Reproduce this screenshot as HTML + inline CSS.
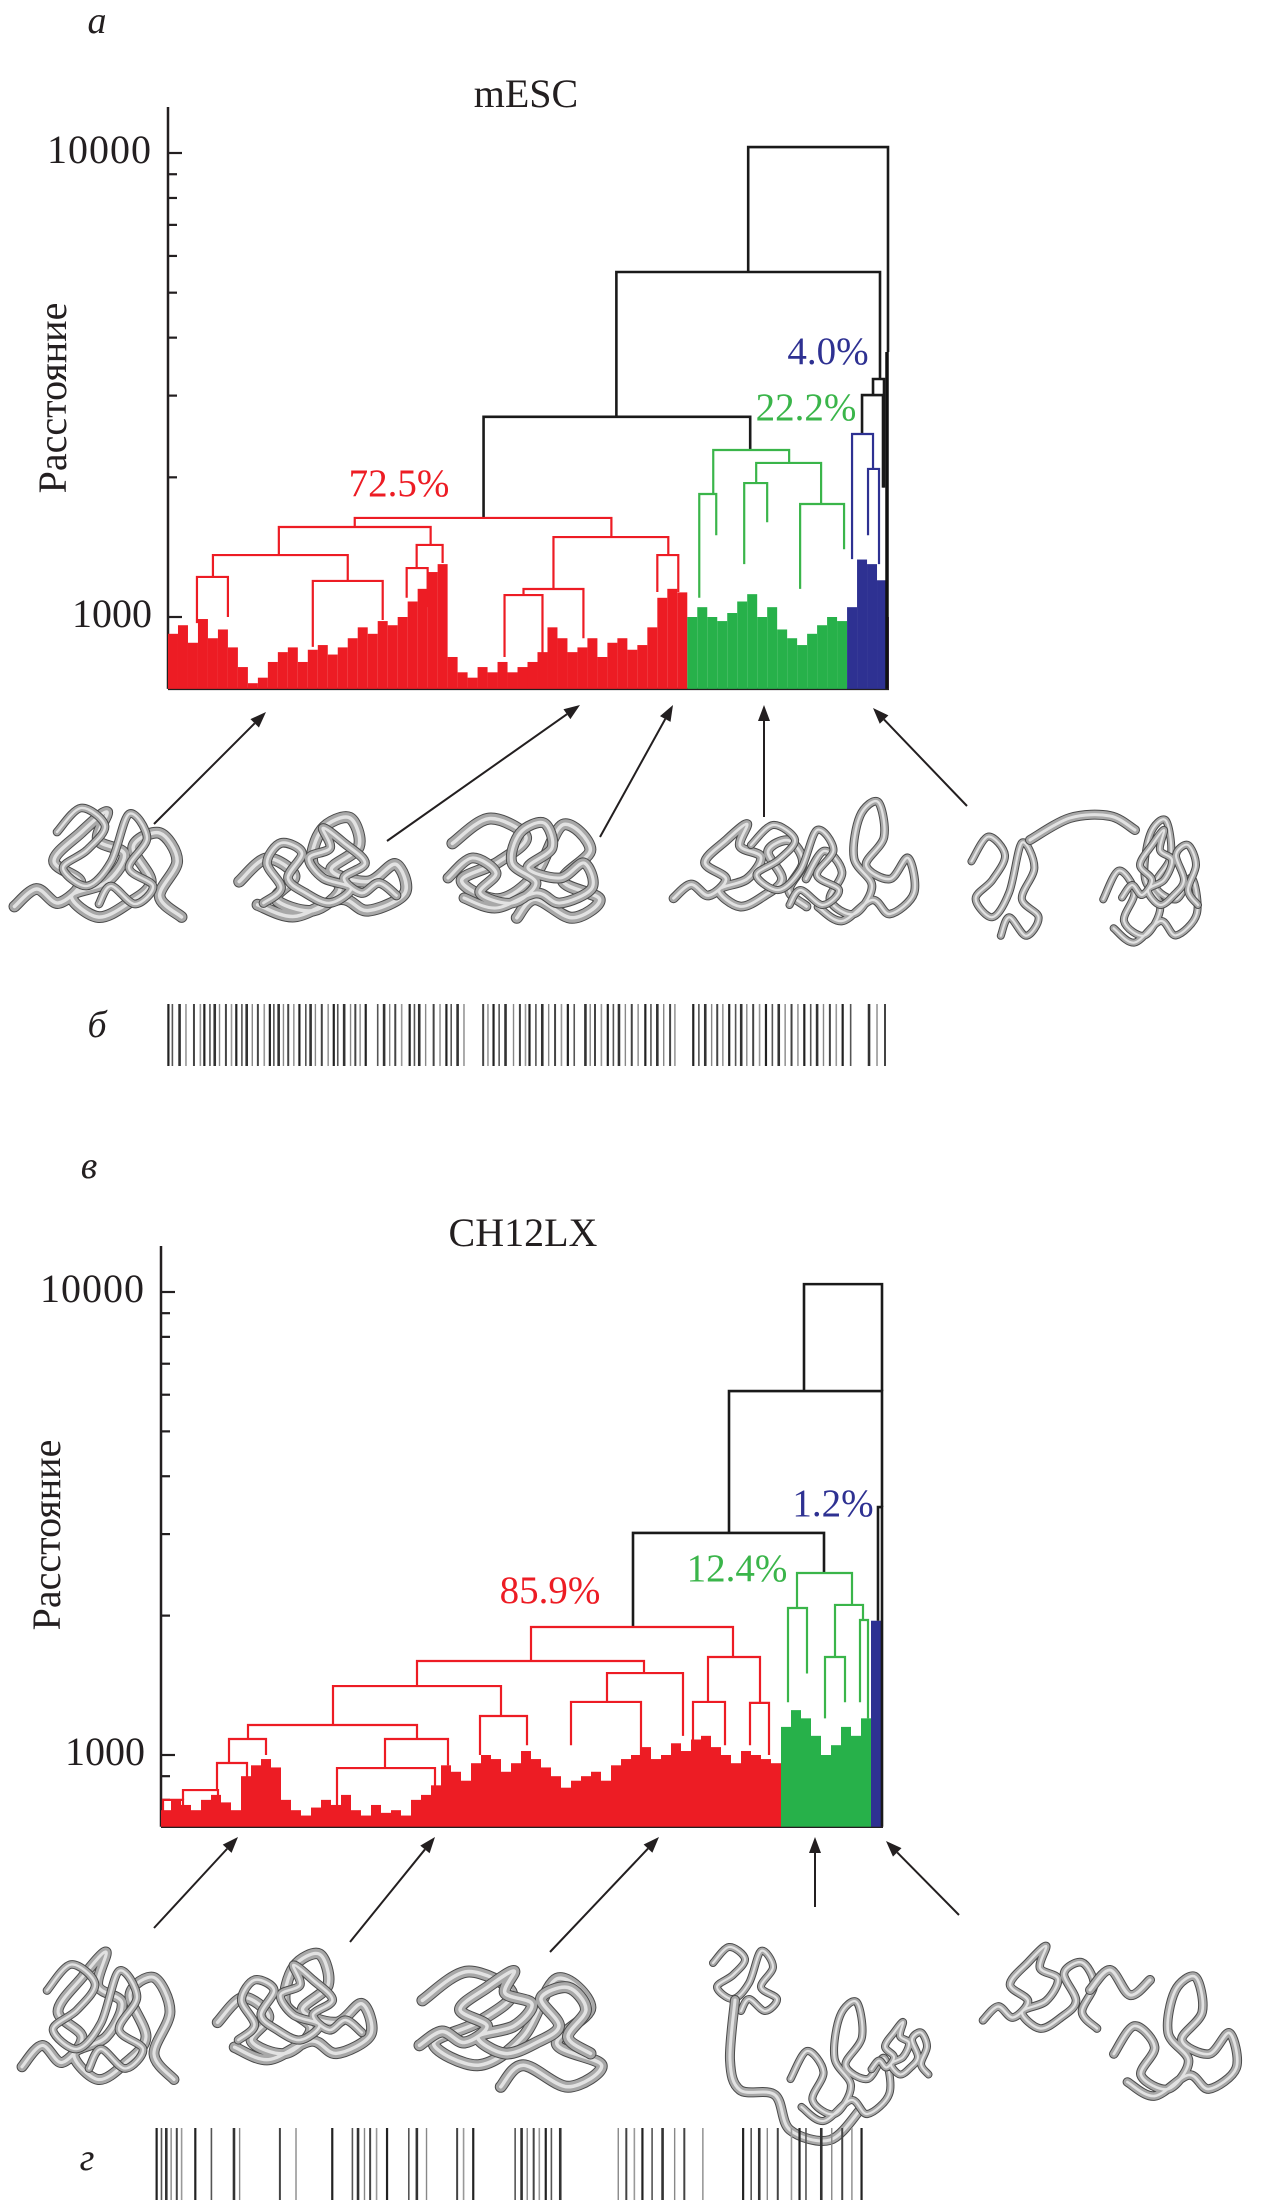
<!DOCTYPE html>
<html><head><meta charset="utf-8"><style>
html,body{margin:0;padding:0;background:#fff;}
svg{display:block;}
text{font-family:"Liberation Serif","DejaVu Serif",serif;}
</style></head><body>
<svg id="fig" xmlns="http://www.w3.org/2000/svg" width="1262" height="2205" viewBox="0 0 1262 2205">
<rect width="1262" height="2205" fill="#fff"/>
<g>
  <text x="97" y="33" font-size="38" font-style="italic" text-anchor="middle" fill="#231f20">а</text>
  <text x="526" y="107" font-size="40" text-anchor="middle" fill="#231f20">mESC</text>
  <text transform="translate(66,398) rotate(-90)" font-size="40" text-anchor="middle" fill="#231f20">Расстояние</text>
  <g id="axisA"></g>
  <g id="dendA"></g>
  <text x="399" y="496" font-size="39" text-anchor="middle" fill="#ed1c24">72.5%</text>
  <text x="806" y="420" font-size="39" text-anchor="middle" fill="#3ab54a">22.2%</text>
  <text x="828" y="364" font-size="39" text-anchor="middle" fill="#2e3192">4.0%</text>
  <g id="structA"></g>
  <g id="arrowsA"></g>
  <text x="97" y="1037" font-size="38" font-style="italic" text-anchor="middle" fill="#231f20">б</text>
  <g id="barB"></g>
</g>
<g>
  <text x="89" y="1178" font-size="38" font-style="italic" text-anchor="middle" fill="#231f20">в</text>
  <text x="523" y="1246" font-size="40" text-anchor="middle" fill="#231f20">CH12LX</text>
  <text transform="translate(60,1535) rotate(-90)" font-size="40" text-anchor="middle" fill="#231f20">Расстояние</text>
  <g id="axisC"></g>
  <g id="dendC"></g>
  <text x="550" y="1603" font-size="39" text-anchor="middle" fill="#ed1c24">85.9%</text>
  <text x="737" y="1581" font-size="39" text-anchor="middle" fill="#3ab54a">12.4%</text>
  <text x="833" y="1516" font-size="39" text-anchor="middle" fill="#2e3192">1.2%</text>
  <g id="structC"></g>
  <g id="arrowsC"></g>
  <text x="87" y="2170" font-size="38" font-style="italic" text-anchor="middle" fill="#231f20">г</text>
  <g id="barD"></g>
</g>
</svg>
<script>
// ---------- DATA: panel a (mESC) ----------
const A_tickValues = [800, 900, 1000, 2000, 3000, 4000, 5000, 6000, 7000, 8000, 9000, 10000];
const A_tickLabels = ["1000", "10000"];
const A_nodeLeft  = [581,449,316,706,695,685,701,187,111,45,249,29,145,239,386,356,490,337,546,589,577,633,532];
const A_nodeRight = [721,713,583,717,716,706,712,444,263,180,275,60,215,260,501,416,511,375,622,654,600,677,549];
const A_nodeHeight= [10300,5540,2700,3258,3008,2480,2085,1635,1563,1360,1430,1220,1196,1275,1487,1149,1360,1115,2290,2148,1944,1752,1841];
const A_legLeft   = [5540,2700,1635,3008,2480,1333,1500,1563,1360,1220,1275,970,862,1100,1149,1115,1132,820,1841,1944,1300,1150,1100];
const A_legRight  = [3725,3258,2290,1900,1900,2085,1300,1487,1430,1196,1307,1000,985,1050,1360,900,1132,770,2148,1752,1600,1400,1500];
const A_nodeCluster=["k","k","k","k","k","b","b","r","r","r","r","r","r","r","r","r","r","r","g","g","g","g","g"];
const A_leafFill = [920,960,880,990,900,940,860,780,720,740,800,840,860,800,850,870,830,860,900,950,920,980,960,1000,1080,1150,1250,1300,820,760,740,780,760,800,760,780,800,840,950,900,840,860,900,820,880,900,850,870,950,1100,1150,1130,1000,1050,1000,980,1020,1080,1120,1000,1050,940,900,870,920,960,1000,980,1050,1330,1300,1200,1000];
const A_clusterEnd = [522, 683, 716, 722];
const A_stemTop = [3725];
const A_barcode = [208,213,222,230,240,248,253,260,266,272,280,287,293,300,306,313,320,328,335,340,346,352,358,365,372,380,386,392,400,408,415,420,428,436,442,448,455,470,478,485,492,500,510,516,522,530,540,548,556,562,570,578,602,608,615,622,630,640,648,655,660,668,676,684,692,700,708,716,730,736,742,750,758,765,772,780,788,796,805,812,820,828,836,842,865,872,880,888,895,902,910,918,925,932,940,948,956,964,972,980,988,996,1004,1012,1020,1028,1036,1044,1052,1062,1085,1095,1105];

// ---------- DATA: panel c (CH12LX) ----------
const C_tickValues = [800, 900, 1000, 2000, 3000, 4000, 5000, 6000, 7000, 8000, 9000, 10000];
const C_tickLabels = ["1000", "10000"];
const C_nodeLeft  = [643,568,472,717,370,256,547,172,446,87,319,410,532,589,68,224,176,56,22,2,636,627,674,664,699];
const C_nodeRight = [721,721,663,721,572,483,599,340,522,256,366,480,564,608,105,287,274,86,57,22,691,646,702,684,707];
const C_nodeHeight= [10400,6110,3017,3432,1890,1596,1628,1409,1503,1161,1214,1302,1302,1296,1083,1083,937,961,840,800,2472,2077,2109,1628,1957];
const C_legLeft   = [6110,3017,1890,1950,1596,1409,1302,1161,1302,1083,1000,1050,1000,1050,961,937,780,840,800,740,2077,1300,1628,1200,1300];
const C_legRight  = [6110,3432,2472,700,1628,1503,1296,1214,1100,1083,1050,1000,1050,1000,1000,950,800,870,800,760,2109,1500,1957,1300,1200];
const C_nodeCluster=["k","k","k","k","r","r","r","r","r","r","r","r","r","r","r","r","r","r","r","r","g","g","g","g","g"];
const C_leafFill = [760,800,780,760,800,820,790,760,900,950,980,940,800,760,740,770,800,780,820,760,740,780,750,760,740,800,820,860,950,920,880,960,1000,980,920,960,1020,980,940,900,850,880,900,920,880,950,980,1000,1040,980,1000,1060,1020,1080,1100,1040,1000,960,1020,1000,980,960,1150,1250,1200,1100,1000,1050,1150,1100,1200,1950,1800];
const C_clusterEnd = [619, 711, 719, 722];
const C_barcode = [197,203,209,215,222,228,245,265,293,300,350,370,415,440,447,455,462,470,483,510,520,532,570,578,590,642,650,657,665,672,680,687,698,770,780,790,800,812,825,840,852,875,925,935,945,955,968,985,995,1003,1022,1035,1048,1060,1072];

// ---------- helpers ----------
const NS = "http://www.w3.org/2000/svg";
const COL = {k:"#1a1a1a", r:"#ed1c24", g:"#3ab54a", b:"#2e3192"};
const FILLCOL = ["#ed1c24", "#27b14a", "#2e3192", "#7a3a8c"];
function mk(tag, attrs, parent){
  const e = document.createElementNS(NS, tag);
  for (const k in attrs) e.setAttribute(k, attrs[k]);
  parent.appendChild(e);
  return e;
}
function makeScales(x0, x1, nLeaves, y1000, decade){
  return {
    x: i => x0 + (x1 - x0) * i / nLeaves,
    y: v => y1000 - decade * Math.log10(v / 1000)
  };
}
const SA = makeScales(168, 889, 722, 617, 464);
const SC = makeScales(161, 883, 722, 1755, 463);

function drawAxis(g, S, ticks, labels, xAxis, yTop, yBase, xEnd){
  const l = mk("line", {x1:xAxis, y1:yTop, x2:xAxis, y2:yBase, stroke:"#231f20", "stroke-width":2.5}, g);
  
  
  const b = mk("line", {x1:xAxis, y1:yBase, x2:xEnd, y2:yBase, stroke:"#231f20", "stroke-width":2.5}, g);
  
  
  ticks.forEach(v => {
    const major = (v === 1000 || v === 10000);
    const t = mk("line", {x1:xAxis, y1:S.y(v), x2:xAxis + (major ? 14 : 9), y2:S.y(v), stroke:"#231f20", "stroke-width":2.2}, g);
    
    
  });
  [1000, 10000].forEach((v, i) => {
    const tx = mk("text", {x:xAxis - 16, y:S.y(v) + 10, "font-size":40, "text-anchor":"end", fill:"#231f20", "letter-spacing":(i === 1 ? 1 : 0)}, g);
    tx.textContent = labels[i];
    
    
  });
}

function drawDendro(g, S, fill, clusterEnd, L, R, H, LL, LR, CL, baseV){
  fill.forEach((h, i) => {
    const c = i * 10 + 5;
    let ci = 0;
    while (ci < clusterEnd.length - 1 && c >= clusterEnd[ci]) ci++;
    const x0 = S.x(i * 10), x1 = S.x(Math.min(i * 10 + 10, 722));
    const r = mk("rect", {x:x0, y:S.y(h), width:Math.max(0, x1 - x0), height:S.y(baseV) - S.y(h), fill:FILLCOL[ci]}, g);
    
    
  });
  L.forEach((xl, i) => {
    const xr = R[i], h = H[i];
    const p = "M" + S.x(xl) + "," + S.y(LL[i]) + " V" + S.y(h) + " H" + S.x(xr) + " V" + S.y(LR[i]);
    const path = mk("path", {d:p, fill:"none", stroke:COL[CL[i]], "stroke-width": CL[i] === "k" ? 2.6 : 2.2}, g);
    
    
  });
}

drawAxis(document.getElementById("axisA"), SA, A_tickValues, A_tickLabels, 168, 107, SA.y(700), 889);
drawDendro(document.getElementById("dendA"), SA, A_leafFill, A_clusterEnd, A_nodeLeft, A_nodeRight, A_nodeHeight, A_legLeft, A_legRight, A_nodeCluster, 700);
A_stemTop.forEach(v => {
  const s = mk("line", {x1:SA.x(720), y1:SA.y(v), x2:SA.x(720), y2:SA.y(700), stroke:"#111", "stroke-width":3.5}, document.getElementById("dendA"));
  
  
});
drawAxis(document.getElementById("axisC"), SC, C_tickValues, C_tickLabels, 161, 1246, SC.y(700), 883);
drawDendro(document.getElementById("dendC"), SC, C_leafFill, C_clusterEnd, C_nodeLeft, C_nodeRight, C_nodeHeight, C_legLeft, C_legRight, C_nodeCluster, 700);

function drawBar(g, pos, d0, d1, x0, x1, y0, y1){
  pos.forEach((p, i) => {
    const x = x0 + (x1 - x0) * (p - d0) / (d1 - d0);
    const shade = ["#222","#555","#333","#888","#444","#999"][i % 6];
    const w = [2.2,1.6,2.6,1.4,2,1.6][i % 6];
    const l = mk("line", {x1:x, y1:y0, x2:x, y2:y1, stroke:shade, "stroke-width":w}, g);
    
    
  });
}
drawBar(document.getElementById("barB"), A_barcode, 205, 1110, 166, 889, 1004, 1066);
drawBar(document.getElementById("barD"), C_barcode, 190, 1080, 151, 868, 2128, 2200);

function arrow(g, x1, y1, x2, y2){
  const a = Math.atan2(y2 - y1, x2 - x1), L = 16, W = 6;
  const bx = x2 - L * Math.cos(a), by = y2 - L * Math.sin(a);
  const ln = mk("line", {x1:x1, y1:y1, x2:bx, y2:by, stroke:"#231f20", "stroke-width":2}, g);
  
  
  const px = -Math.sin(a) * W, py = Math.cos(a) * W;
  const hd = mk("polygon", {points: x2 + "," + y2 + " " + (bx + px) + "," + (by + py) + " " + (bx - px) + "," + (by - py), fill:"#231f20"}, g);
  
  
}
[[154,824,266,712],[387,841,580,705],[600,837,673,705],[764,817,764,705],[967,806,873,708]].forEach(a => arrow(document.getElementById("arrowsA"), a[0], a[1], a[2], a[3]));
[[154,1928,238,1837],[350,1942,435,1837],[550,1952,659,1837],[815,1907,815,1837],[959,1915,886,1841]].forEach(a => arrow(document.getElementById("arrowsC"), a[0], a[1], a[2], a[3]));

const S1 = [[-0.95,0.55],[-0.7,0.3],[-0.45,0.5],[-0.2,0.2],[-0.5,-0.1],[-0.2,-0.5],[0.1,-0.8],[0.0,-0.4],[0.3,-0.2],[0.1,0.2],[-0.3,0.4],[0.0,0.7],[0.35,0.5],[0.6,0.2],[0.4,-0.3],[0.7,-0.5],[0.9,-0.1],[0.7,0.4],[0.95,0.7]];
const S2 = [[-0.9,0.2],[-0.6,-0.2],[-0.3,0.1],[-0.5,0.5],[-0.1,0.7],[0.2,0.3],[-0.1,-0.1],[0.0,-0.7],[0.3,-0.9],[0.4,-0.4],[0.1,0.0],[0.5,0.2],[0.8,-0.1],[0.9,0.4],[0.5,0.7],[0.2,0.5],[-0.3,0.8],[-0.7,0.6]];
const S3 = [[-0.8,-0.3],[-0.4,-0.7],[0,-0.4],[-0.3,0],[-0.7,0.3],[-0.3,0.6],[0.1,0.2],[0.4,-0.6],[0.7,-0.2],[0.4,0.3],[0.8,0.6],[0.5,0.9],[0.1,0.6],[-0.1,0.9]];
function smoothPath(pts){
  let d = "M" + pts[0][0].toFixed(1) + "," + pts[0][1].toFixed(1);
  for (let i = 0; i < pts.length - 1; i++){
    const p0 = pts[Math.max(0, i - 1)], p1 = pts[i], p2 = pts[i + 1], p3 = pts[Math.min(pts.length - 1, i + 2)];
    const c1 = [p1[0] + (p2[0] - p0[0]) / 6, p1[1] + (p2[1] - p0[1]) / 6];
    const c2 = [p2[0] - (p3[0] - p1[0]) / 6, p2[1] - (p3[1] - p1[1]) / 6];
    d += " C" + c1[0].toFixed(1) + "," + c1[1].toFixed(1) + " " + c2[0].toFixed(1) + "," + c2[1].toFixed(1) + " " + p2[0].toFixed(1) + "," + p2[1].toFixed(1);
  }
  return d;
}
function tube(g, shape, cx, cy, sx, sy){
  const pts = shape.map(p => [cx + p[0] * sx, cy + p[1] * sy]);
  const d = smoothPath(pts);
  const w = Math.max(6, Math.min(10, Math.abs(sx) / 9));
  [["#4a4a4a", w + 2], ["#a8a8a8", w], ["#e2e2e2", w * 0.35]].forEach(s => {
    const p = mk("path", {d:d, fill:"none", stroke:s[0], "stroke-width":s[1], "stroke-linecap":"round", "stroke-linejoin":"round"}, g);
    
    
  });
}
function rawTube(g, pts){
  const d = smoothPath(pts);
  [["#4a4a4a", 10], ["#a8a8a8", 8], ["#e2e2e2", 3]].forEach(s => {
    const p = mk("path", {d:d, fill:"none", stroke:s[0], "stroke-width":s[1], "stroke-linecap":"round"}, g);
    
    
  });
}
const gA = document.getElementById("structA"), gC = document.getElementById("structC");
tube(gA, S1, 98, 868, 88, 70); tube(gA, S3, 105, 850, 60, 60);
tube(gA, S2, 322, 870, 92, 58); tube(gA, S1, 330, 868, -70, 50);
tube(gA, S3, 526, 862, 92, 62); tube(gA, S2, 520, 868, 80, 50);
tube(gA, S1, 740, 868, 70, 55); tube(gA, S2, 860, 865, 60, 70); tube(gA, S3, 795, 860, 55, 50);
tube(gA, S3, 1005, 880, 42, 62); tube(gA, S2, 1150, 885, 52, 72); tube(gA, S1, 1160, 870, 40, 50);
rawTube(gA, [[1030,840],[1070,818],[1110,816],[1135,830]]);
tube(gC, S1, 98, 2020, 80, 85); tube(gC, S3, 95, 2010, 60, 65);
tube(gC, S2, 294, 2010, 85, 62); tube(gC, S1, 300, 2005, -65, 50);
tube(gC, S3, 512, 2022, 112, 72); tube(gC, S1, 505, 2015, 90, 55);
tube(gC, S3, 745, 1975, 40, 40);
rawTube(gC, [[735,2000],[730,2060],[740,2090],[775,2095],[790,2130],[830,2140],[860,2110]]);
tube(gC, S2, 840, 2065, 55, 70); tube(gC, S1, 900, 2050, 30, 35);
tube(gC, S1, 1040, 1990, 60, 55); tube(gC, S2, 1175, 2040, 68, 70);
rawTube(gC, [[1090,1990],[1110,1970],[1130,1995],[1150,1980]]);
</script>
</body></html>
